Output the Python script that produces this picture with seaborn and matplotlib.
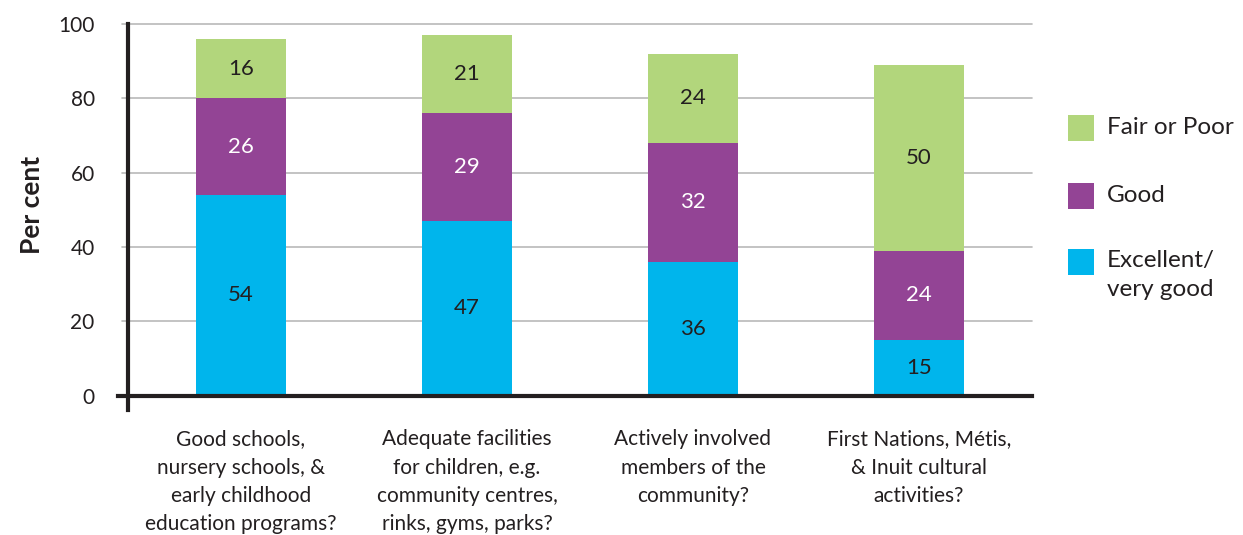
import matplotlib
matplotlib.use("Agg")
import matplotlib.pyplot as plt
from matplotlib.patches import Rectangle
import numpy as np
import pandas as pd
import seaborn as sns

# Survey ratings by community resource (per cent)
categories = [
    "Good schools,\nnursery schools, &\nearly childhood\neducation programs?",
    "Adequate facilities\nfor children, e.g.\ncommunity centres,\nrinks, gyms, parks?",
    "Actively involved\nmembers of the\ncommunity?",
    "First Nations, Métis,\n& Inuit cultural\nactivities?",
]
excellent = [54, 47, 36, 15]
good = [26, 29, 32, 24]
fair_poor = [16, 21, 24, 50]

series_names = ["Excellent/\nvery good", "Good", "Fair or Poor"]
colors = {"Excellent/\nvery good": "#00b5ec", "Good": "#934495", "Fair or Poor": "#b2d67c"}
label_colors = {"Excellent/\nvery good": "#231f20", "Good": "white", "Fair or Poor": "#231f20"}
yticks = [0, 20, 40, 60, 80, 100]

TEXT = "#231f20"
sns.set_theme(style="white")
plt.rcParams["font.family"] = ["Lato", "DejaVu Sans"]
plt.rcParams["text.color"] = TEXT

df = pd.DataFrame({
    "category": categories,
    "Excellent/\nvery good": excellent,
    "Good": good,
    "Fair or Poor": fair_poor,
})
df["top_good"] = df["Excellent/\nvery good"] + df["Good"]
df["top_all"] = df["top_good"] + df["Fair or Poor"]

fig = plt.figure(figsize=(12.43, 5.35), dpi=100)
ax = fig.add_axes([128 / 1243, 1 - 410 / 535, 904 / 1243, 386 / 535])

# Stacked bars drawn as overlapping cumulative totals
bar_w = 0.40
for col, name in [("top_all", "Fair or Poor"), ("top_good", "Good"),
                  ("Excellent/\nvery good", "Excellent/\nvery good")]:
    sns.barplot(data=df, x="category", y=col, color=colors[name], width=bar_w,
                saturation=1, ax=ax, linewidth=0, order=categories, zorder=3)

# Segment value labels
bottoms = np.zeros(len(categories))
for name in series_names:
    vals = np.array(df[name], dtype=float)
    for i, v in enumerate(vals):
        ax.text(i, bottoms[i] + v / 2, f"{int(v)}", ha="center", va="center",
                fontsize=16, color=label_colors[name], zorder=5)
    bottoms += vals

ax.set_xlim(-0.5, 3.5)
ax.set_ylim(-3.8, 100)

# Horizontal gridlines
for t in yticks[1:]:
    ax.axhline(t, xmin=-6 / 904, xmax=1, color="#b9b9b9", lw=1.2,
               clip_on=False, zorder=1)

ax.set_yticks(yticks)
ax.set_yticklabels([str(t) for t in yticks])
ax.tick_params(axis="y", length=0, pad=24, labelsize=15, labelcolor=TEXT)
ax.set_xticks(range(len(categories)))
ax.set_xticklabels(categories)
ax.tick_params(axis="x", which="major", length=0, pad=24, labelsize=15,
               labelcolor=TEXT)
ax.set_xticks([0.5, 1.5, 2.5, 3.5], minor=True)
ax.tick_params(axis="x", which="minor", length=9, width=1.2, color="#9a9a9a",
               direction="out")

ax.set_xlabel("")
ax.set_ylabel("Per cent", fontsize=19, fontweight="bold", color=TEXT)
ax.yaxis.set_label_coords(-0.093, 0.53)

for s in ["top", "right"]:
    ax.spines[s].set_visible(False)
ax.spines["left"].set_color("#231f20")
ax.spines["left"].set_linewidth(3)
ax.spines["left"].set_zorder(6)
ax.spines["bottom"].set_position(("data", 0))
ax.spines["bottom"].set_color("#231f20")
ax.spines["bottom"].set_linewidth(3)
ax.spines["bottom"].set_bounds(-0.5 - 10 / 226, 3.5)
ax.spines["bottom"].set_zorder(6)

# Legend
leg_items = [("Fair or Poor", 128), ("Good", 196), ("Excellent/\nvery good", 262)]
for name, yc in leg_items:
    fig.add_artist(Rectangle((1068 / 1243, 1 - (yc + 13) / 535), 26 / 1243, 26 / 535,
                             transform=fig.transFigure, color=colors[name], lw=0))
    if "\n" in name:
        fig.text(1107 / 1243, 1 - (yc - 12) / 535, name, fontsize=17.5, color=TEXT,
                 ha="left", va="top", linespacing=1.5)
    else:
        fig.text(1107 / 1243, 1 - yc / 535, name, fontsize=17.5, color=TEXT,
                 ha="left", va="center")

# Multi-line category labels need wider line spacing; set it once ticks exist
fig.canvas.draw()
for tk in ax.xaxis.get_major_ticks():
    tk.label1.set_linespacing(1.52)

fig.savefig("out.png", dpi=100)
